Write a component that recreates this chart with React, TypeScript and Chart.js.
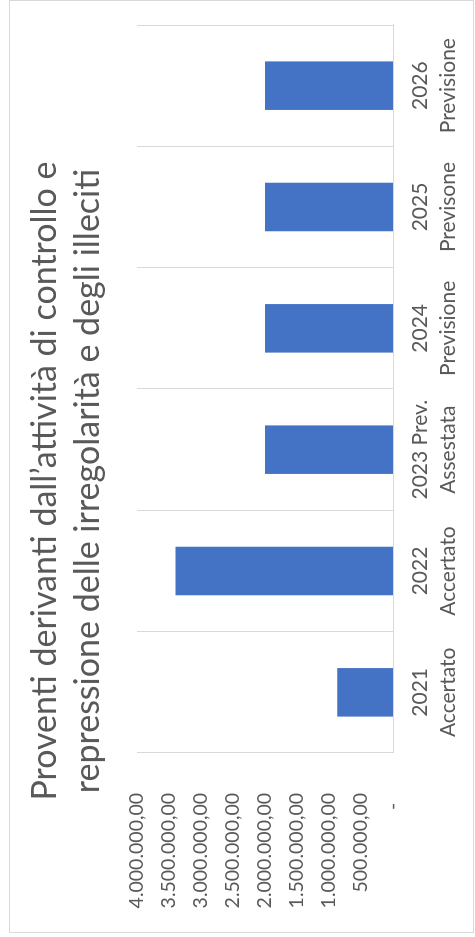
import React, { useEffect, useRef } from "react";
import { Chart, registerables } from "chart.js";

Chart.register(...registerables);

const categories: string[][] = [
  ["2021", "Accertato"],
  ["2022", "Accertato"],
  ["2023 Prev.", "Assestata"],
  ["2024", "Previsione"],
  ["2025", "Previsone"],
  ["2026", "Previsione"],
];
const values: number[] = [870000, 3400000, 2000000, 2000000, 2000000, 2000000];
const valueTickLabels: string[] = [
  "-\u2002",
  "500.000,00",
  "1.000.000,00",
  "1.500.000,00",
  "2.000.000,00",
  "2.500.000,00",
  "3.000.000,00",
  "3.500.000,00",
  "4.000.000,00",
];
const titleLines: string[] = [
  "Proventi derivanti dall\u2019attivit\u00e0 di controllo e",
  "repressione delle irregolarit\u00e0 e degli illeciti",
];

const W = 937;
const H = 475;
const FONT = "Lato, 'Open Sans', sans-serif";
const TEXT = "#595959";
const GRID = "#d9d9d9";

const framePlugin = {
  id: "frame",
  beforeDraw(chart: any) {
    const ctx = chart.ctx;
    ctx.save();
    ctx.fillStyle = "#ffffff";
    ctx.fillRect(0, 0, chart.width, chart.height);
    ctx.strokeStyle = "#d9d9d9";
    ctx.lineWidth = 1;
    ctx.strokeRect(4.5, 9.5, 932, 464);
    ctx.restore();
  },
};

export default function App() {
  const ref = useRef<HTMLCanvasElement | null>(null);

  useEffect(() => {
    document.body.style.margin = "0";
    document.body.style.overflow = "hidden";
    document.body.style.background = "#ffffff";
    if (!ref.current) return;
    const chart = new Chart(ref.current, {
      type: "bar",
      data: {
        labels: categories,
        datasets: [
          {
            data: values,
            backgroundColor: "#4472C4",
            borderWidth: 0,
            barPercentage: 0.4,
            categoryPercentage: 1,
          },
        ],
      },
      options: {
        responsive: false,
        animation: false,
        layout: { padding: { left: 0, right: 25, top: 0, bottom: 0 } },
        plugins: {
          legend: { display: false },
          tooltip: { enabled: false },
          title: {
            display: true,
            text: titleLines,
            color: TEXT,
            font: { family: FONT, size: 34, weight: "normal", lineHeight: 43 / 34 },
            padding: { top: 23.5, bottom: 27.5 },
          },
        },
        scales: {
          x: {
            grid: { display: true, offset: true, color: GRID, lineWidth: 1, drawTicks: false },
            border: { display: true, color: GRID },
            ticks: {
              color: TEXT,
              font: { family: FONT, size: 21, lineHeight: 28 / 21 },
              padding: 13,
              maxRotation: 0,
              autoSkip: false,
            },
            afterFit: (scale: any) => {
              scale.height = 82;
            },
          },
          y: {
            min: 0,
            max: 4000000,
            grid: { display: false, drawTicks: false },
            border: { display: false },
            ticks: {
              stepSize: 500000,
              color: TEXT,
              font: { family: FONT, size: 19.5 },
              padding: 40,
              callback: (_v: any, i: number) => valueTickLabels[i],
            },
            afterFit: (scale: any) => {
              scale.width = 184;
            },
          },
        },
      },
      plugins: [framePlugin],
    });
    return () => chart.destroy();
  }, []);

  return (
    <div
      style={{
        position: "fixed",
        left: 0,
        top: 0,
        width: W,
        height: H,
        transformOrigin: "0 0",
        transform: `translate(0px, ${W}px) rotate(-90deg)`,
      }}
    >
      <canvas ref={ref} width={W} height={H} style={{ display: "block" }} />
    </div>
  );
}
